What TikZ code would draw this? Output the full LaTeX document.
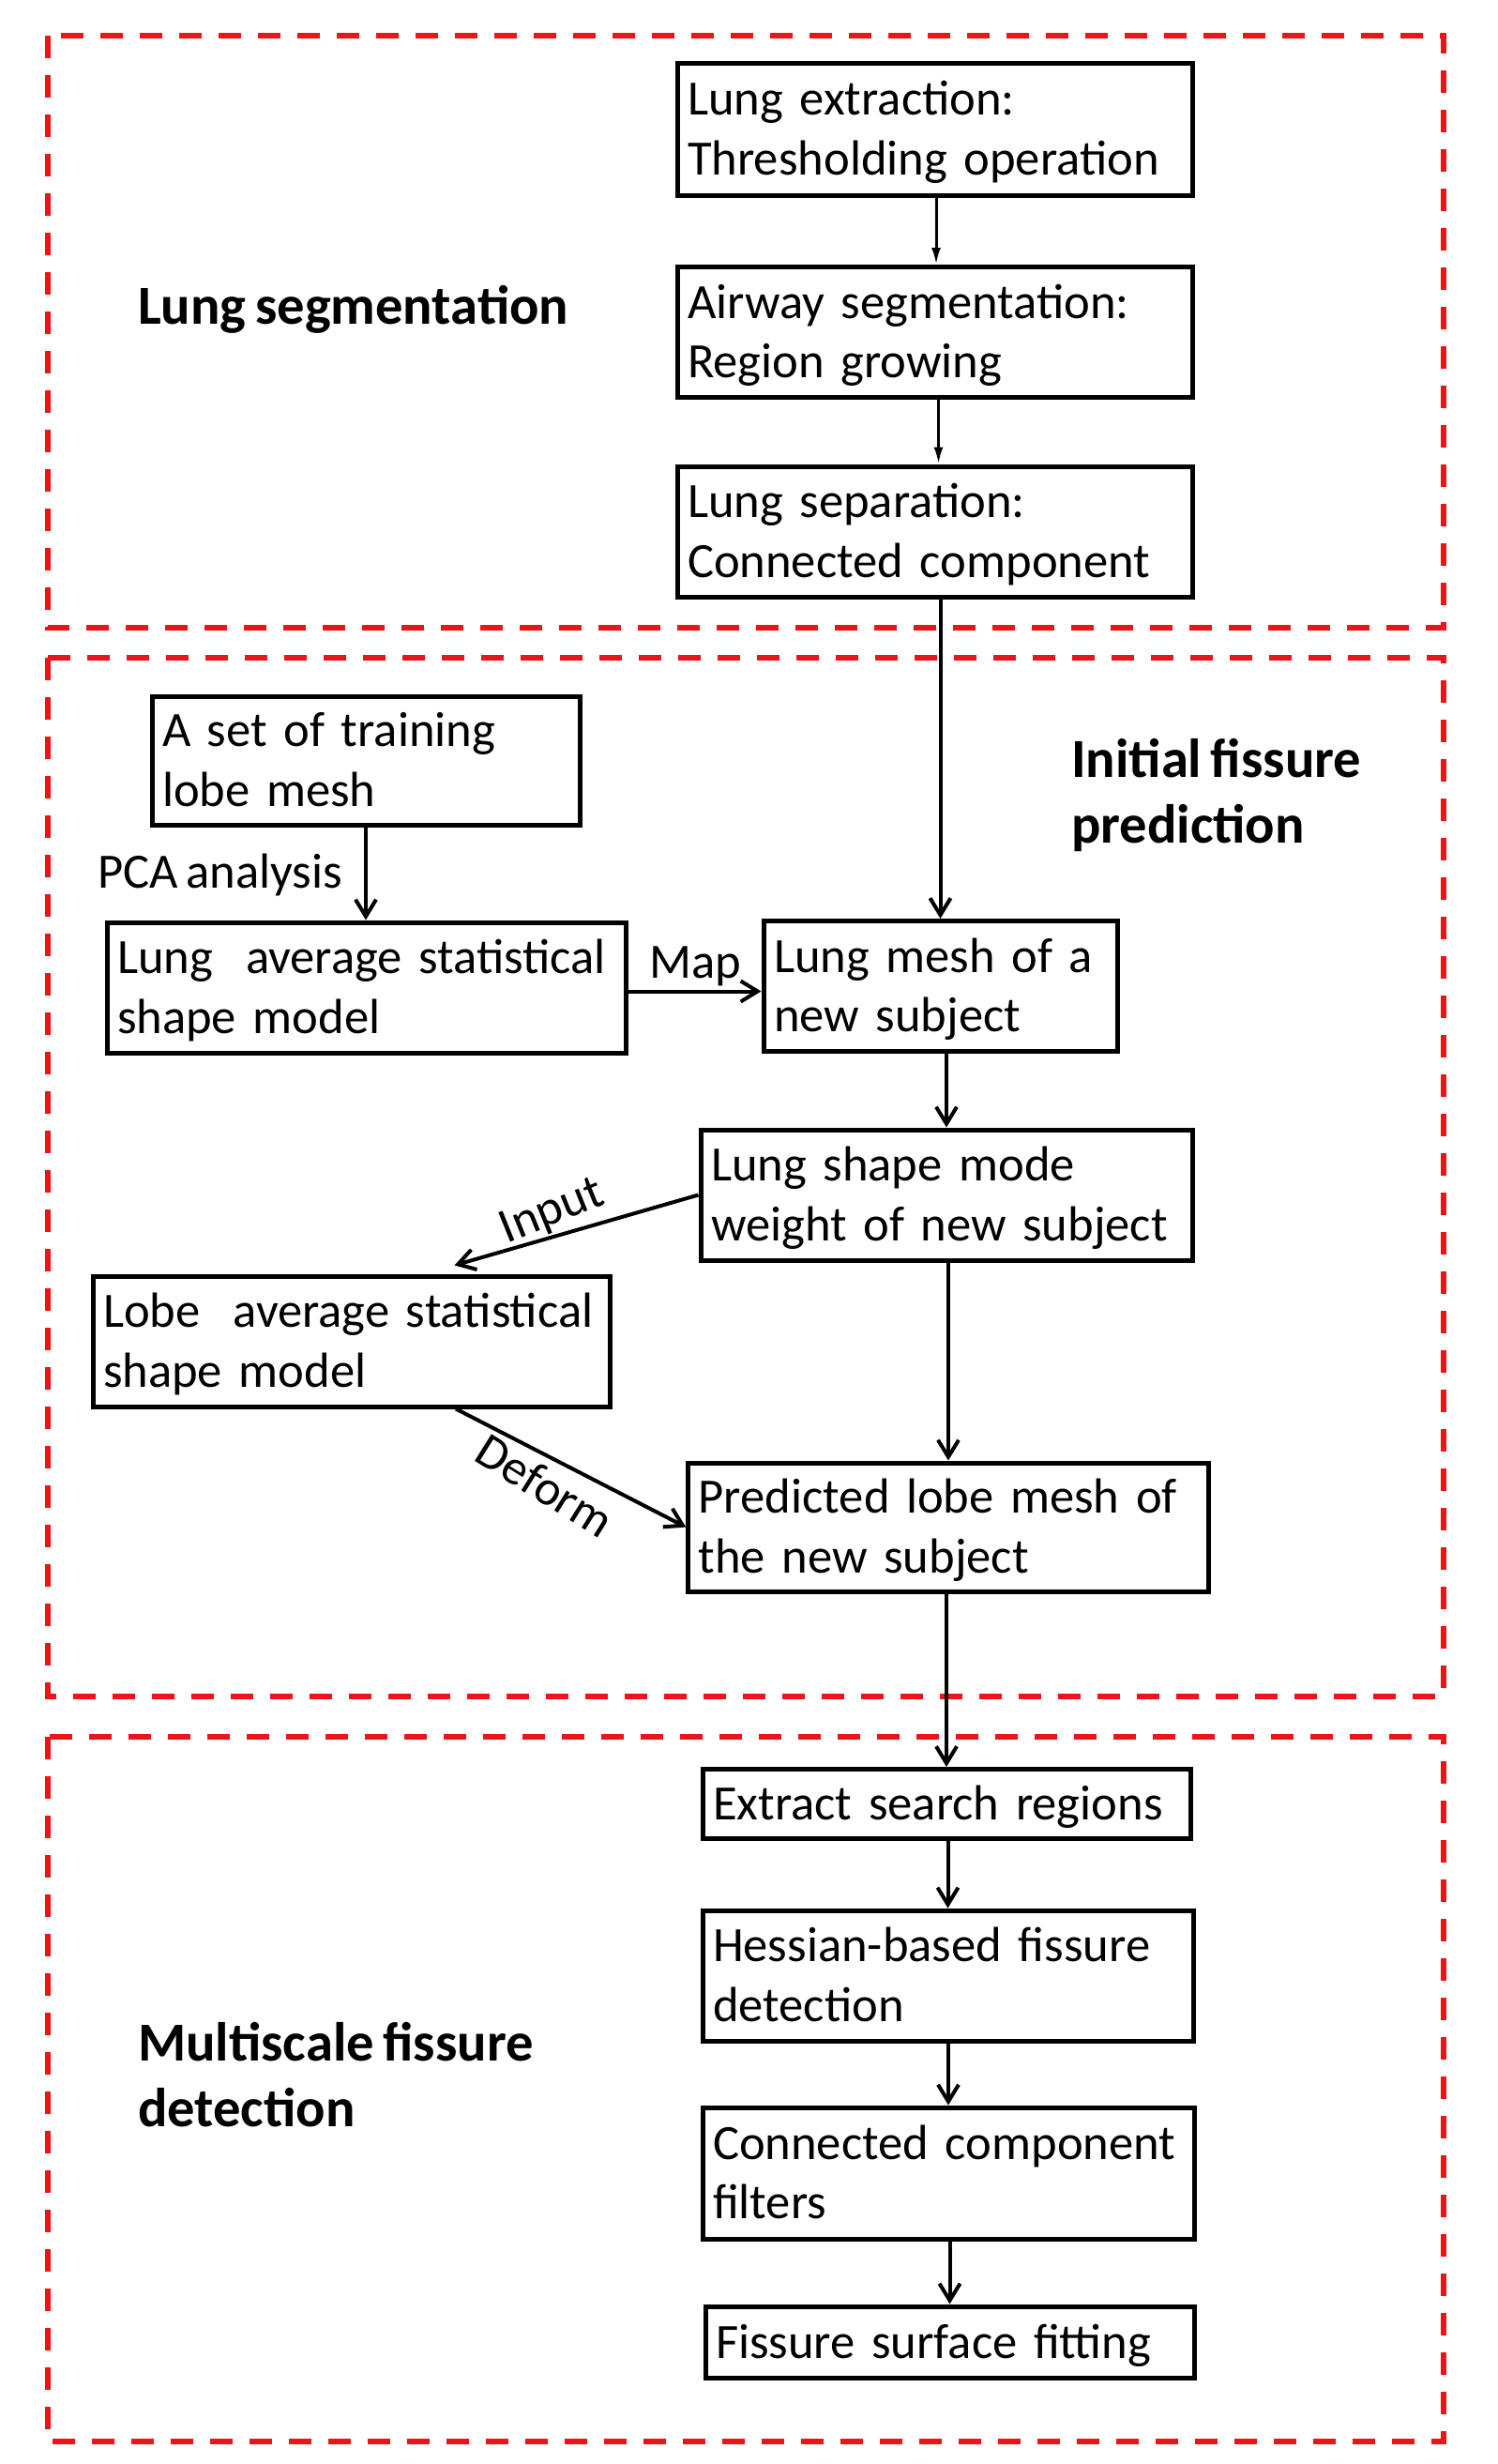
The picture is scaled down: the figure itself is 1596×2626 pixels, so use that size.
\documentclass[tikz,border=0pt]{standalone}
\usepackage{fontspec}
\setmainfont{Carlito}[WordSpace=0.72]
\usetikzlibrary{arrows.meta,calc}
\definecolor{dashred}{RGB}{236,20,24}
\tikzset{
  txt/.style={font=\fontsize{52.6}{63.6}\selectfont},
  bigtxt/.style={font=\bfseries\fontsize{58.6}{70}\selectfont, inner sep=0pt, align=left},
  box/.style 2 args={draw, line width=5pt, txt, inner xsep=11pt, inner ysep=0pt,
    minimum width=#1pt, minimum height=#2pt, text width=#1pt-22pt, align=left,
    execute at begin node={\rule{0pt}{50pt}},
    execute at end node={\rule[-16pt]{0pt}{16pt}}},
  lbl/.style={txt, inner sep=0pt},
  sect/.style={draw=dashred, line width=6pt, dash pattern=on 24pt off 18pt},
  arrA/.style={line width=3pt, -{Latex[length=18pt,width=10pt]}},
  arrB/.style={line width=4pt, -{Straight Barb[length=18pt,width=22pt]}}
}
\begin{document}
\begin{tikzpicture}[x=1pt,y=-1pt]
\useasboundingbox[fill=white] (0,0) rectangle (1596,2626);

% section frames
\draw[sect] (51,37.7) rectangle (1539,668.5);
\draw[sect] (51,701) rectangle (1539,1808);
\draw[sect] (51,1851) rectangle (1539,2602);

% section titles
\node[bigtxt, anchor=west] (tseg) at (147,330) {Lung segmentation};
\node[bigtxt, anchor=west] (tinit) at (1142,847) {Initial fissure\\prediction};
\node[bigtxt, anchor=west] (tmulti) at (147,2211) {Multiscale fissure\\detection};

% section 1 boxes
\node[box={549}{141}] (b1) at (996.5,137.5) {\mbox{Lung extraction:}\\\mbox{Thresholding operation}};
\node[box={549}{139}] (b2) at (996.5,354) {\mbox{Airway segmentation:}\\\mbox{Region growing}};
\node[box={549}{139}] (b3) at (996.5,566.5) {\mbox{Lung separation:}\\\mbox{Connected component}};

% section 2 boxes
\node[box={456}{137}] (train) at (390,810.5) {\mbox{A set of training}\\\mbox{lobe mesh}};
\node[box={553}{139}] (lavg) at (390.5,1052.5) {\mbox{Lung~ average statistical}\\\mbox{shape model}};
\node[box={377}{139}] (mesh) at (1002.5,1051) {\mbox{Lung mesh of a}\\\mbox{new subject}};
\node[box={524}{139}] (shape) at (1009,1273.5) {\mbox{Lung shape mode}\\\mbox{weight of new subject}};
\node[box={551}{139}] (lobe) at (374.5,1429.5) {\mbox{Lobe~ average statistical}\\\mbox{shape model}};
\node[box={554.5}{137}] (pred) at (1011,1627.5) {\mbox{Predicted lobe mesh of}\\\mbox{the new subject}};

% section 3 boxes
\node[box={520}{74}] (ext) at (1009,1922.5) {\mbox{Extract search regions}};
\node[box={523}{139}] (hess) at (1010.5,2105.5) {\mbox{Hessian-based fissure}\\\mbox{detection}};
\node[box={524}{140}] (conn) at (1011,2316) {\mbox{Connected component}\\\mbox{filters}};
\node[box={521}{76}] (fit) at (1012.5,2496) {\mbox{Fissure surface fitting}};

% labels
\node[lbl, anchor=west] (pca) at (104,932) {PCA analysis};
\node[lbl, anchor=west] (map) at (692,1030) {Map};
\node[lbl, rotate=22] (inp) at (589,1292) {Input};
\node[lbl, rotate=-32] (def) at (581,1583) {Deform};

% connectors
\draw[arrA] ([xshift=1.5pt]b1.south) -- ([xshift=1.5pt]b1.south |- b2.north);
\draw[arrA] ([xshift=4pt]b2.south) -- ([xshift=4pt]b2.south |- b3.north);
\draw[arrB] (b3.south -| mesh.north) -- (mesh.north);
\draw[arrB] (train.south) -- (train.south |- lavg.north);
\draw[arrB] ([yshift=-4pt]lavg.east) -- ([yshift=-4pt]lavg.east -| mesh.west);
\draw[arrB] (mesh.south -| shape.north) -- (shape.north);
\draw[arrB] (shape.west) -- ([xshift=110pt,yshift=9pt]lobe.north);
\draw[arrB] (shape.south -| pred.north) -- (pred.north);
\draw[arrB] ([xshift=111.5pt]lobe.south) -- (pred.west);
\draw[arrB] (pred.south -| ext.north) -- (ext.north);
\draw[arrB] (ext.south -| hess.north) -- (hess.north);
\draw[arrB] (hess.south -| conn.north) -- (conn.north);
\draw[arrB] (conn.south -| fit.north) -- (fit.north);
\end{tikzpicture}
\end{document}
